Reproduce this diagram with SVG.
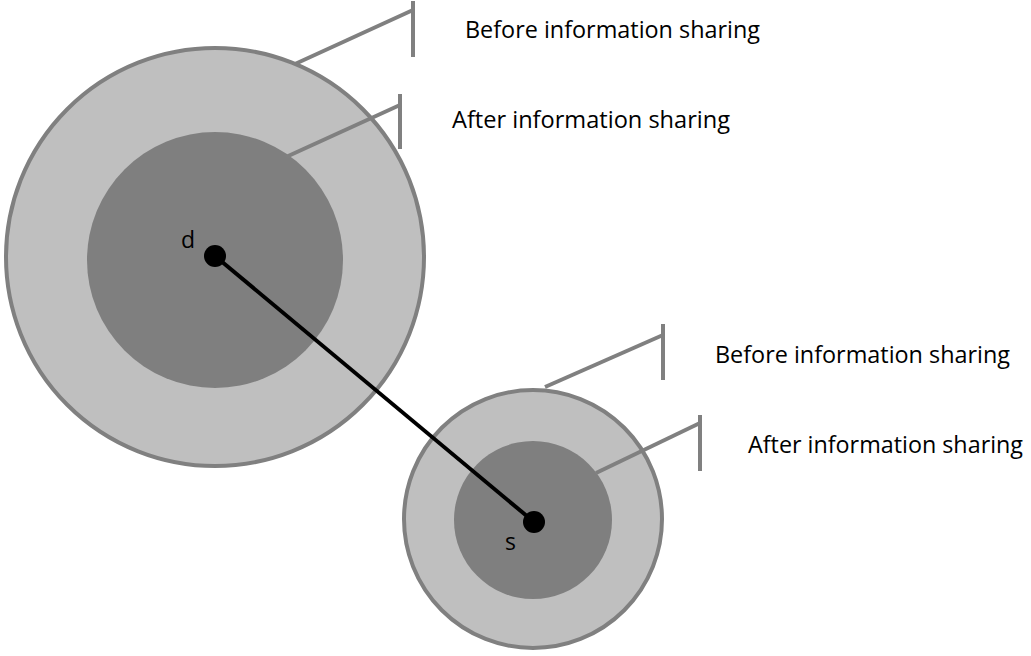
<svg xmlns="http://www.w3.org/2000/svg" width="1031" height="656" viewBox="0 0 1031 656">
  <style>
    .outer { fill: #bfbfbf; stroke: #808080; stroke-width: 4; }
    .inner { fill: #7f7f7f; stroke: none; }
    .callout { fill: none; stroke: #808080; stroke-width: 4; }
    .lbl { font-family: "Open Sans", "Liberation Sans", Arial, sans-serif; font-size: 24px; fill: #000; }
    .pt { font-family: "Open Sans", "Liberation Sans", Arial, sans-serif; font-size: 23px; fill: #000; }
    .dot { fill: #000; }
  </style>
  <rect width="1031" height="656" fill="#fff"/>
  <g id="node-d-region">
    <circle class="outer" cx="215" cy="257" r="209"/>
    <circle class="inner" cx="215" cy="260" r="128"/>
  </g>
  <g id="node-s-region">
    <circle class="outer" cx="533" cy="519" r="129"/>
    <circle class="inner" cx="533" cy="520" r="79"/>
  </g>
  <g id="connectors">
    <line x1="215" y1="256" x2="534" y2="522" stroke="#000" stroke-width="4"/>
    <polyline class="callout" points="295,64 413,10"/>
    <line class="callout" x1="413" y1="1" x2="413" y2="57"/>
    <polyline class="callout" points="286,157 400,105"/>
    <line class="callout" x1="400" y1="94" x2="400" y2="149"/>
    <polyline class="callout" points="545,387 663,335"/>
    <line class="callout" x1="663" y1="324" x2="663" y2="380"/>
    <polyline class="callout" points="596,473 700,423"/>
    <line class="callout" x1="700" y1="415" x2="700" y2="471"/>
  </g>
  <g id="node-d">
    <circle class="dot" cx="215" cy="256" r="11"/>
    <text class="pt" x="181" y="248">d</text>
  </g>
  <g id="node-s">
    <circle class="dot" cx="534" cy="522" r="11"/>
    <text class="pt" x="505" y="550">s</text>
  </g>
  <g id="labels">
    <text class="lbl" x="465" y="38" textLength="295" lengthAdjust="spacingAndGlyphs">Before information sharing</text>
    <text class="lbl" x="452" y="128" textLength="278" lengthAdjust="spacingAndGlyphs">After information sharing</text>
    <text class="lbl" x="715" y="363" textLength="295" lengthAdjust="spacingAndGlyphs">Before information sharing</text>
    <text class="lbl" x="748" y="453" textLength="275" lengthAdjust="spacingAndGlyphs">After information sharing</text>
  </g>
</svg>
